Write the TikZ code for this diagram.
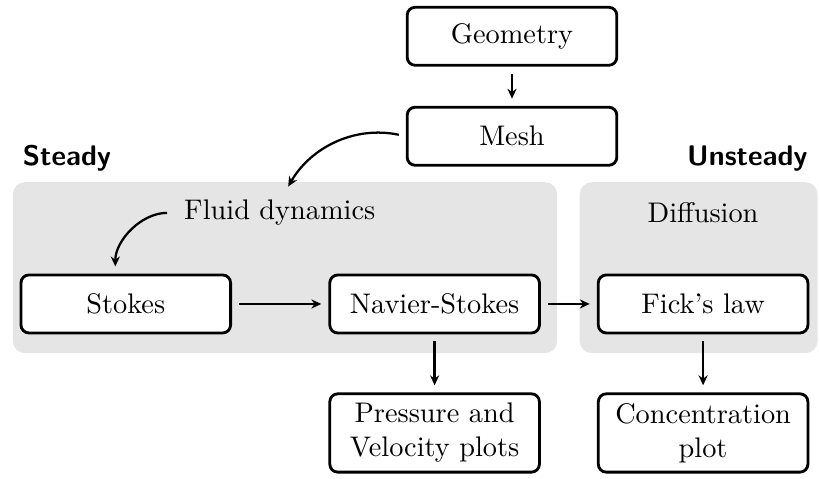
\documentclass[tikz,border=0pt]{standalone}
\usetikzlibrary{arrows.meta}

\tikzset{
  block/.style={draw, line width=1pt, rounded corners=1mm, fill=white,
    minimum width=2.6cm, minimum height=0.72cm, align=center},
  region/.style={fill=gray!20, rounded corners=1.5mm, inner sep=0pt},
  flow/.style={-{Stealth[length=3.5pt,width=3.2pt]}, thick,
    shorten <=2.5pt, shorten >=2.5pt},
  phase/.style={font=\sffamily\bfseries}
}

\begin{document}
\begin{tikzpicture}
  \useasboundingbox (0,0) rectangle (10.17,-5.93);

  % Grey backgrounds
  \node[region, minimum width=6.75cm, minimum height=2.12cm] (steadybg) at (3.535,-3.32) {};
  \node[region, minimum width=2.95cm, minimum height=2.12cm] (unsteadybg) at (8.665,-3.32) {};

  % Phase labels
  \node[phase, anchor=base west] (steady) at (0.16,-2.05) {Steady};
  \node[phase, anchor=base east] (unsteady) at (10.14,-2.05) {Unsteady};

  % Preprocessing
  \node[block] (geometry) at (6.35,-0.45) {Geometry};
  \node[block] (mesh) at (6.35,-1.69) {Mesh};

  % Solvers
  \node (fluid) at (3.47,-2.64) {Fluid dynamics};
  \node (diffusion) at (8.72,-2.64) {Diffusion};
  \node[block] (stokes) at (1.56,-3.77) {Stokes};
  \node[block] (navier) at (5.39,-3.77) {Navier-Stokes};
  \node[block] (fick) at (8.72,-3.77) {Fick's law};

  % Results
  \node[block] (pressure) at (5.39,-5.37) {Pressure and\\Velocity plots};
  \node[block] (concentration) at (8.72,-5.37) {Concentration\\plot};

  % Arrows
  \coordinate (meshin) at (3.53,-2.39);
  \draw[flow] (geometry) -- (mesh);
  \draw[flow] (mesh.west) to[out=168,in=60] (meshin);
  \draw[flow] (fluid.west) to[out=180,in=90] ([xshift=-1.3mm]stokes.north);
  \draw[flow] (stokes) -- (navier);
  \draw[flow] (navier) -- (fick);
  \draw[flow] (navier) -- (pressure);
  \draw[flow] (fick) -- (concentration);
\end{tikzpicture}
\end{document}
